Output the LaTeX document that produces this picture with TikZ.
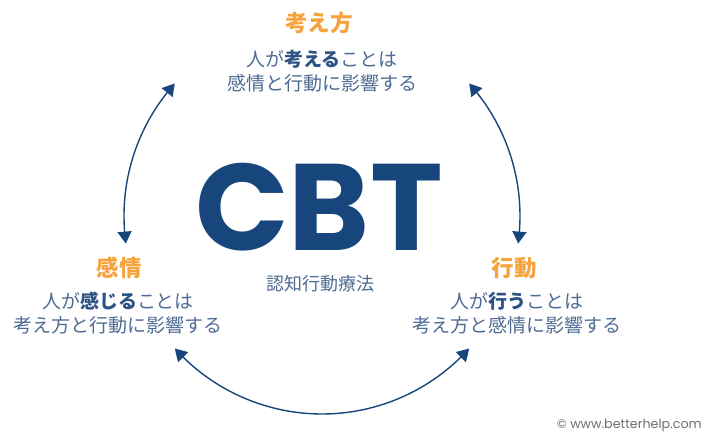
\documentclass[tikz,border=0pt]{standalone}
\usepackage{fontspec}
\newfontfamily\jp{Noto Sans CJK JP}
\newfontfamily\pop{Poppins}
\usetikzlibrary{arrows.meta,bending}
\definecolor{navy}{HTML}{17467D}
\definecolor{orng}{HTML}{F7A33D}
\definecolor{slate}{HTML}{4E6B93}
\definecolor{slatedk}{HTML}{2E5284}
\definecolor{gry}{HTML}{6E6E6E}
\begin{document}
\begin{tikzpicture}[x=1pt,y=1pt,
  head/.style={font=\jp\bfseries\fontsize{22.5}{26}\selectfont, text=orng, inner sep=0pt},
  body/.style={font=\jp\fontsize{19}{24}\selectfont, text=slate, align=center, inner sep=0pt},
  cyc/.style={draw=navy, line width=1.4pt, {Triangle[length=12pt,width=14pt,bend]}-{Triangle[length=12pt,width=14pt,bend]}}
]
\newcommand{\hl}[1]{{\bfseries\color{slatedk}#1}}
\useasboundingbox (0,0) rectangle (705,435);
% centre of cycle
\coordinate (c) at (322,219);
% texts
\node[head] (th) at (319,412) {考え方};
\node[body] (tb) at (322,364) {人が\hl{考える}ことは\\感情と行動に影響する};
\node[head] (lh) at (119,167) {感情};
\node[body] (lb) at (118,122) {人が\hl{感じる}ことは\\考え方と行動に影響する};
\node[head] (rh) at (514,167) {行動};
\node[body] (rb) at (517,122) {人が\hl{行う}ことは\\考え方と感情に影響する};
\node[inner sep=0pt, text=navy, font=\pop\bfseries\fontsize{123}{123}\selectfont] (cbt) at (319,228) {CBT};
\node[inner sep=0pt, text=slate, font=\jp\fontsize{18}{20}\selectfont] (sub) at (320,151) {認知行動療法};
\node[anchor=east, inner sep=0pt, text=gry, font=\pop\fontsize{12.7}{14}\selectfont] (copy) at (702,10) {© www.betterhelp.com};
% arc start points
\path (c) ++(138:198) coordinate (la);
\path (c) ++(222:198) coordinate (ba);
\path (c) ++(-8:198) coordinate (ra);
% connectors
\draw[cyc] (la) arc[start angle=138, end angle=188, radius=198];
\draw[cyc] (ba) arc[start angle=222, end angle=318, radius=198];
\draw[cyc] (ra) arc[start angle=-8, end angle=42, radius=198];
\end{tikzpicture}
\end{document}
